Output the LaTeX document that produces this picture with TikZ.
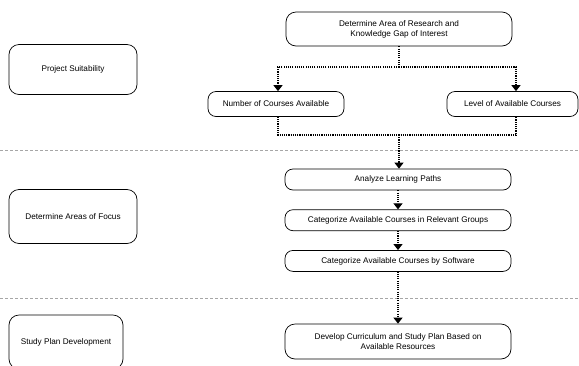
\documentclass[tikz,border=0pt]{standalone}
\usepackage{fontspec}
\setmainfont{Liberation Sans}
\usetikzlibrary{positioning,arrows.meta}
\tikzset{
  box/.style={draw, line width=0.7pt, rounded corners=8pt, align=center, font=\fontsize{8.2}{10}\selectfont, inner sep=2pt},
  stage/.style={box, minimum width=128pt, minimum height=50pt, rounded corners=10pt},
  stepbox/.style={box, minimum width=226pt, minimum height=21pt},
  link/.style={line width=1.1pt, dash pattern=on 1.1pt off 1.1pt},
  arr/.style={link, -{Triangle[length=6pt, width=9pt]}},
  sep/.style={gray!70, dash pattern=on 3pt off 2pt, line width=0.6pt},
}
\begin{document}
\begin{tikzpicture}[x=1pt, y=-1pt, node distance=19pt]
  \useasboundingbox (0,0) rectangle (579,365);
  % phases on the left
  \node[stage] (suit) at (73,69.5) {Project Suitability};
  \node[stage, minimum height=54pt] (focus) at (73,216.5) {Determine Areas of Focus};
  \node[stage, minimum width=114pt, minimum height=54pt] (plan) at (66,342) {Study Plan Development};
  \draw[sep] (0,150) -- (579,150);
  \draw[sep] (0,298) -- (579,298);
  % main flow
  \node[stepbox, minimum height=34pt, rounded corners=10pt] (area) at (399,29) {Determine Area of Research and\\Knowledge Gap of Interest};
  \node[box, minimum width=136pt, minimum height=25pt] (num) at (276,104) {Number of Courses Available};
  \node[box, minimum width=131pt, minimum height=25pt] (lvl) at (512.5,104) {Level of Available Courses};
  \node[stepbox] (paths) at (398,179.5) {Analyze Learning Paths};
  \node[stepbox, below=of paths] (groups) {Categorize Available Courses in Relevant Groups};
  \node[stepbox, below=of groups] (soft) {Categorize Available Courses by Software};
  \node[stepbox, minimum height=35pt, rounded corners=10pt] (curr) at (398,341.5) {Develop Curriculum and Study Plan Based on\\Available Resources};
  \coordinate (split) at (399,67);
  \coordinate (join) at (399,135);
  \draw[link] (area.south) -- (split);
  \draw[arr] (split) -| ([xshift=2pt]num.north);
  \draw[arr] (split) -| ([xshift=3.5pt]lvl.north);
  \draw[link] ([xshift=2pt]num.south) |- (join) -| ([xshift=3.5pt]lvl.south);
  \draw[arr] (join) -- (join |- paths.north);
  \draw[arr] (paths) -- (groups);
  \draw[arr] (groups) -- (soft);
  \draw[arr] (soft) -- (curr);
\end{tikzpicture}
\end{document}
